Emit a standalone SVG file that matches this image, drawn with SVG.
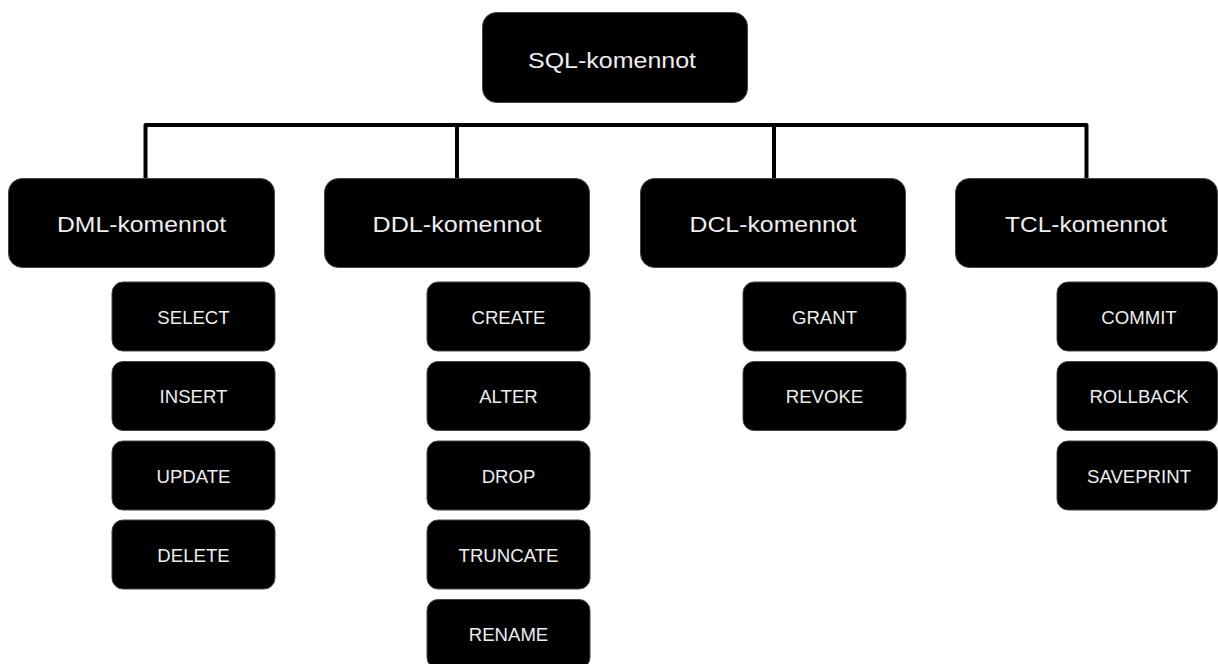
<svg xmlns="http://www.w3.org/2000/svg" width="1218" height="664" viewBox="0 0 1218 664">
<style>
.box{fill:#000;stroke:#444;stroke-width:1}
.main{font-family:"Liberation Sans",Arial,sans-serif;font-size:22px;fill:#eeeeee;text-anchor:middle}
.sub{font-family:"Liberation Sans",Arial,sans-serif;font-size:18.6px;fill:#eeeeee;text-anchor:middle}
.conn{fill:none;stroke:#000;stroke-width:4;stroke-linejoin:round;stroke-linecap:round}
</style>
<rect width="1218" height="664" fill="#fff"/>
<g id="connectors">
<path class="conn" d="M145.5,178 V125 H1086.5 V178"/>
<path class="conn" d="M457,125 V178"/>
<path class="conn" d="M774,125 V178"/>
</g>
<g id="root"><rect class="box" x="482.5" y="12.5" width="265" height="90" rx="14"/><text class="main" x="612" y="68" textLength="168" lengthAdjust="spacingAndGlyphs">SQL-komennot</text></g>
<g id="dml"><rect class="box" x="8.5" y="178.5" width="266" height="89" rx="14"/><text class="main" x="141.5" y="232" textLength="169" lengthAdjust="spacingAndGlyphs">DML-komennot</text></g>
<g id="ddl"><rect class="box" x="324.5" y="178.5" width="265" height="89" rx="14"/><text class="main" x="457" y="232" textLength="169" lengthAdjust="spacingAndGlyphs">DDL-komennot</text></g>
<g id="dcl"><rect class="box" x="640.5" y="178.5" width="265" height="89" rx="14"/><text class="main" x="773" y="232" textLength="167" lengthAdjust="spacingAndGlyphs">DCL-komennot</text></g>
<g id="tcl"><rect class="box" x="955.5" y="178.5" width="262" height="89" rx="14"/><text class="main" x="1086" y="232" textLength="162" lengthAdjust="spacingAndGlyphs">TCL-komennot</text></g>

<g id="select"><rect class="box" x="112" y="282" width="163" height="69" rx="11"/><text class="sub" x="193.5" y="324">SELECT</text></g>
<g id="insert"><rect class="box" x="112" y="361.5" width="163" height="69" rx="11"/><text class="sub" x="193.5" y="403">INSERT</text></g>
<g id="update"><rect class="box" x="112" y="441" width="163" height="69" rx="11"/><text class="sub" x="193.5" y="483">UPDATE</text></g>
<g id="delete"><rect class="box" x="112" y="520" width="163" height="69" rx="11"/><text class="sub" x="193.5" y="562">DELETE</text></g>

<g id="create"><rect class="box" x="427" y="282" width="163" height="69" rx="11"/><text class="sub" x="508.5" y="324">CREATE</text></g>
<g id="alter"><rect class="box" x="427" y="361.5" width="163" height="69" rx="11"/><text class="sub" x="508.5" y="403">ALTER</text></g>
<g id="drop"><rect class="box" x="427" y="441" width="163" height="69" rx="11"/><text class="sub" x="508.5" y="483">DROP</text></g>
<g id="truncate"><rect class="box" x="427" y="520" width="163" height="69" rx="11"/><text class="sub" x="508.5" y="562">TRUNCATE</text></g>
<g id="rename"><rect class="box" x="427" y="599.5" width="163" height="69" rx="11"/><text class="sub" x="508.5" y="641">RENAME</text></g>

<g id="grant"><rect class="box" x="743" y="282" width="163" height="69" rx="11"/><text class="sub" x="824.5" y="324">GRANT</text></g>
<g id="revoke"><rect class="box" x="743" y="361.5" width="163" height="69" rx="11"/><text class="sub" x="824.5" y="403">REVOKE</text></g>

<g id="commit"><rect class="box" x="1057" y="282" width="160.5" height="69" rx="11"/><text class="sub" x="1139" y="324">COMMIT</text></g>
<g id="rollback"><rect class="box" x="1057" y="361.5" width="160.5" height="69" rx="11"/><text class="sub" x="1139" y="403">ROLLBACK</text></g>
<g id="saveprint"><rect class="box" x="1057" y="441" width="160.5" height="69" rx="11"/><text class="sub" x="1139" y="483">SAVEPRINT</text></g>
</svg>
